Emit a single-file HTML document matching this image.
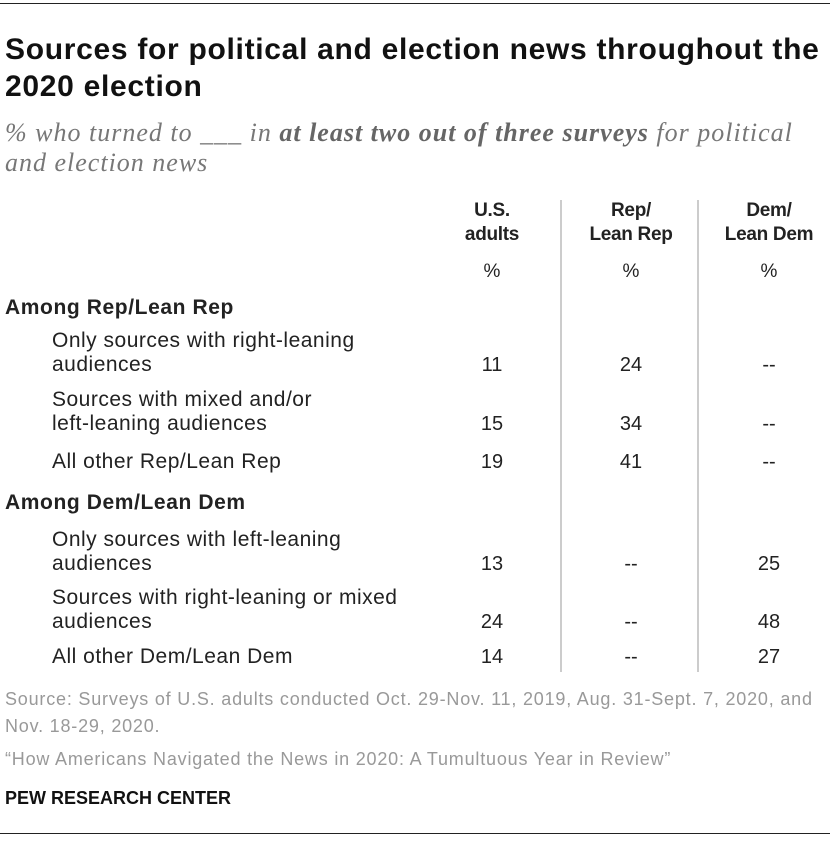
<!DOCTYPE html>
<html><head><meta charset="utf-8"><style>
body{margin:0;width:840px;height:844px;background:#fff;position:relative;font-family:"Liberation Sans",sans-serif;color:#222;overflow:hidden}
.a{position:absolute;white-space:nowrap}
.t{font-weight:bold;font-size:30px;letter-spacing:0.7px;line-height:37px;left:5px;color:#111}
.s{font-family:"Liberation Serif",serif;font-style:italic;font-size:26px;letter-spacing:1px;color:#777;left:5px;line-height:30px}
.h{font-weight:bold;font-size:19px;line-height:24px;text-align:center;width:130px;color:#222;letter-spacing:-0.3px}
.p{font-size:19px;text-align:center;width:130px}
.g{font-weight:bold;font-size:21px;letter-spacing:0.6px;left:5px}
.r{font-size:21px;letter-spacing:0.5px;line-height:24px;left:52px}
.v{font-size:20px;text-align:center;width:130px;line-height:24px}
.n{font-size:18px;letter-spacing:0.8px;color:#999;left:5px;line-height:27px}
.vl{position:absolute;top:200px;height:472px;width:2px;background:#ccc}
</style></head><body>
<div class="a" style="left:0;top:3px;width:830px;height:1px;background:#222"></div>
<div class="a t" style="top:31px">Sources for political and election news throughout the<br>2020 election</div>
<div class="a s" style="top:118px">% who turned to ___ in <b style="color:#666">at least two out of three surveys</b> for political<br>and election news</div>
<div class="vl" style="left:560px"></div>
<div class="vl" style="left:697px"></div>
<div class="a h" style="left:427px;top:199px">U.S.<br>adults</div>
<div class="a h" style="left:566px;top:199px">Rep/<br>Lean Rep</div>
<div class="a h" style="left:704px;top:199px">Dem/<br>Lean Dem</div>
<div class="a p" style="left:427px;top:261px">%</div>
<div class="a p" style="left:566px;top:261px">%</div>
<div class="a p" style="left:704px;top:261px">%</div>

<div class="a g" style="top:296px">Among Rep/Lean Rep</div>
<div class="a r" style="top:329px">Only sources with right-leaning<br>audiences</div>
<div class="a v" style="left:427px;top:353px">11</div><div class="a v" style="left:566px;top:353px">24</div><div class="a v" style="left:704px;top:353px">--</div>
<div class="a r" style="top:388px">Sources with mixed and/or<br>left-leaning audiences</div>
<div class="a v" style="left:427px;top:412px">15</div><div class="a v" style="left:566px;top:412px">34</div><div class="a v" style="left:704px;top:412px">--</div>
<div class="a r" style="top:450px">All other Rep/Lean Rep</div>
<div class="a v" style="left:427px;top:450px">19</div><div class="a v" style="left:566px;top:450px">41</div><div class="a v" style="left:704px;top:450px">--</div>

<div class="a g" style="top:491px">Among Dem/Lean Dem</div>
<div class="a r" style="top:528px">Only sources with left-leaning<br>audiences</div>
<div class="a v" style="left:427px;top:552px">13</div><div class="a v" style="left:566px;top:552px">--</div><div class="a v" style="left:704px;top:552px">25</div>
<div class="a r" style="top:586px">Sources with right-leaning or mixed<br>audiences</div>
<div class="a v" style="left:427px;top:610px">24</div><div class="a v" style="left:566px;top:610px">--</div><div class="a v" style="left:704px;top:610px">48</div>
<div class="a r" style="top:645px">All other Dem/Lean Dem</div>
<div class="a v" style="left:427px;top:645px">14</div><div class="a v" style="left:566px;top:645px">--</div><div class="a v" style="left:704px;top:645px">27</div>

<div class="a n" style="top:686px">Source: Surveys of U.S. adults conducted Oct. 29-Nov. 11, 2019, Aug. 31-Sept. 7, 2020, and<br>Nov. 18-29, 2020.</div>
<div class="a n" style="top:746px">“How Americans Navigated the News in 2020: A Tumultuous Year in Review”</div>
<div class="a" style="left:5px;top:788px;font-weight:bold;font-size:18px;color:#111">PEW RESEARCH CENTER</div>
<div class="a" style="left:0;top:833px;width:830px;height:1px;background:#222"></div>
</body></html>
